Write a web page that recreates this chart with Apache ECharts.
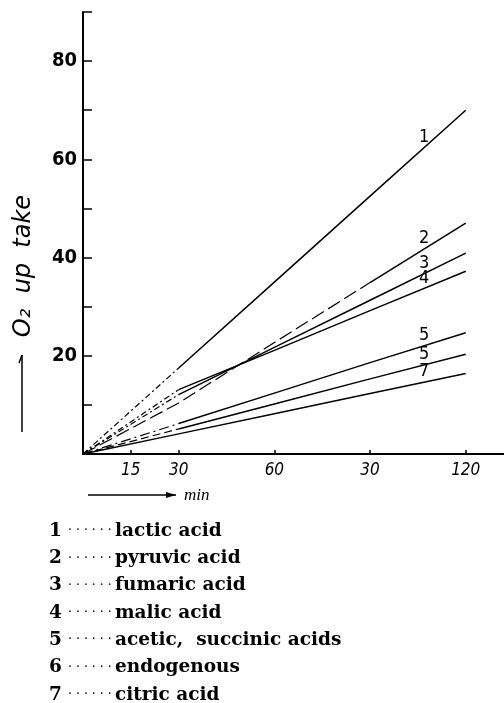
<!DOCTYPE html>
<html>
<head>
<meta charset="utf-8">
<script src="https://cdn.jsdelivr.net/npm/echarts@6/dist/echarts.min.js"></script>
<style>
html, body { margin: 0; padding: 0; background: #fff; }
#chart { width: 504px; height: 703px; }
</style>
</head>
<body>
<div id="chart"></div>
<script>
// time axis (min) and O2 uptake per substrate
const minutes = [0, 30, 60, 90, 120];
const lactic = [0, 17.5, 35, 52.5, 70];
const pyruvic = [0, 10.4, 22.7, 34.9, 47];
const fumaric = [0, 12.1, 21.7, 31.3, 40.9];
const malic = [0, 13.1, 21.1, 29.2, 37.2];
const aceticSuccinic = [0, 6.2, 12.4, 18.6, 24.7];
const endogenous = [0, 5.1, 10.2, 15.3, 20.3];
const citric = [0, 4.1, 8.2, 12.3, 16.4];

// tags printed next to the curves (the 6th one is printed as "5" in the original)
const curveTags = ['1', '2', '3', '4', '5', '5', '7'];

const xTicks = [15, 30, 60, 90, 120];
const xTickLabels = ['15', '30', '60', '30', '120'];

const legendNums = ['1', '2', '3', '4', '5', '6', '7'];
const legendNames = ['lactic acid', 'pyruvic acid', 'fumaric acid', 'malic acid',
    'acetic,  succinic acids', 'endogenous', 'citric acid'];

const curves = [lactic, pyruvic, fumaric, malic, aceticSuccinic, endogenous, citric];
// index where the drawn line turns solid, and dash used before it
const solidFrom = [1, 3, 1, 1, 1, 1, 0];
const dashTypes = [[6, 3, 2, 3], [14, 5], [6, 3, 2, 3], [6, 3, 2, 3], [10, 4, 2, 4], [8, 4], 'solid'];

const labelT = 107;

function valueAt(vals, t) {
    for (let i = 1; i < minutes.length; i++) {
        if (t <= minutes[i]) {
            const f = (t - minutes[i - 1]) / (minutes[i] - minutes[i - 1]);
            return vals[i - 1] + f * (vals[i] - vals[i - 1]);
        }
    }
    return vals[vals.length - 1];
}

const sansNarrow = "'Liberation Sans Narrow', 'DejaVu Sans Condensed', sans-serif";

const series = [];
curves.forEach((vals, i) => {
    const pts = minutes.map((m, k) => [m, vals[k]]);
    const cut = solidFrom[i];
    if (cut > 0) {
        series.push({
            type: 'line',
            data: pts.slice(0, cut + 1),
            showSymbol: false,
            silent: true,
            lineStyle: { color: '#000', width: 1.2, type: dashTypes[i] }
        });
    }
    series.push({
        type: 'line',
        data: pts.slice(cut),
        showSymbol: false,
        silent: true,
        lineStyle: { color: '#000', width: 1.5 },
        markPoint: {
            symbol: 'circle',
            symbolSize: 1,
            itemStyle: { color: 'transparent' },
            label: {
                show: true,
                position: 'top',
                distance: 1,
                formatter: curveTags[i],
                color: '#000',
                fontSize: 18,
                fontFamily: sansNarrow
            },
            data: [{ coord: [labelT, valueAt(vals, labelT)] }]
        }
    });
});

const graphics = [
    {
        type: 'text',
        x: 24, y: 266,
        rotation: Math.PI / 2,
        style: {
            text: 'O₂  up  take',
            fill: '#000',
            font: 'italic 24px "DejaVu Sans", sans-serif',
            align: 'center',
            verticalAlign: 'middle'
        }
    },
    { type: 'line', shape: { x1: 22, y1: 432, x2: 22, y2: 355 }, style: { stroke: '#000', lineWidth: 1.5 } },
    { type: 'line', shape: { x1: 22, y1: 355, x2: 19, y2: 363 }, style: { stroke: '#000', lineWidth: 1.5 } },
    { type: 'line', shape: { x1: 88, y1: 495, x2: 176, y2: 495 }, style: { stroke: '#000', lineWidth: 1.5 } },
    { type: 'polygon', shape: { points: [[176, 495], [166, 492], [166, 498]] }, style: { fill: '#000' } },
    {
        type: 'text', x: 184, y: 496,
        style: { text: 'min', fill: '#000', font: 'italic 17px "Liberation Serif", serif', verticalAlign: 'middle' }
    }
];

legendNames.forEach((name, i) => {
    const y = 531 + i * 27.3;
    graphics.push({
        type: 'text', x: 49, y: y,
        style: { text: legendNums[i], fill: '#000', font: 'bold 18.5px "DejaVu Serif", serif', verticalAlign: 'middle' }
    });
    graphics.push({
        type: 'text', x: 68, y: y,
        style: { text: '· · · · · ·', fill: '#000', font: '12.5px "DejaVu Serif", serif', verticalAlign: 'middle' }
    });
    graphics.push({
        type: 'text', x: 115, y: y,
        style: { text: name, fill: '#000', font: 'bold 18.5px "DejaVu Serif", serif', verticalAlign: 'middle' }
    });
});

const chart = echarts.init(document.getElementById('chart'));
chart.setOption({
    animation: false,
    backgroundColor: '#fff',
    grid: { left: 83, right: 0, top: 12, bottom: 249 },
    xAxis: {
        type: 'value',
        min: 0,
        max: 132,
        axisLine: { lineStyle: { color: '#000', width: 2 } },
        axisTick: {
            inside: true,
            length: 4,
            customValues: xTicks,
            lineStyle: { color: '#000', width: 1.5 }
        },
        axisLabel: {
            customValues: xTicks,
            margin: 8,
            color: '#000',
            fontSize: 17,
            fontStyle: 'italic',
            fontFamily: sansNarrow,
            formatter: v => xTickLabels[xTicks.indexOf(v)] || ''
        },
        splitLine: { show: false }
    },
    yAxis: {
        type: 'value',
        min: 0,
        max: 90,
        interval: 10,
        axisLine: { show: true, lineStyle: { color: '#000', width: 2 } },
        axisTick: { show: true, inside: true, length: 9, lineStyle: { color: '#000', width: 1.5 } },
        axisLabel: {
            margin: 6,
            color: '#000',
            fontSize: 20,
            fontWeight: 'bold',
            fontFamily: sansNarrow,
            formatter: v => (v > 0 && v < 90 && v % 20 === 0) ? String(v) : ''
        },
        splitLine: { show: false }
    },
    series: series,
    graphic: graphics
});
</script>
</body>
</html>
